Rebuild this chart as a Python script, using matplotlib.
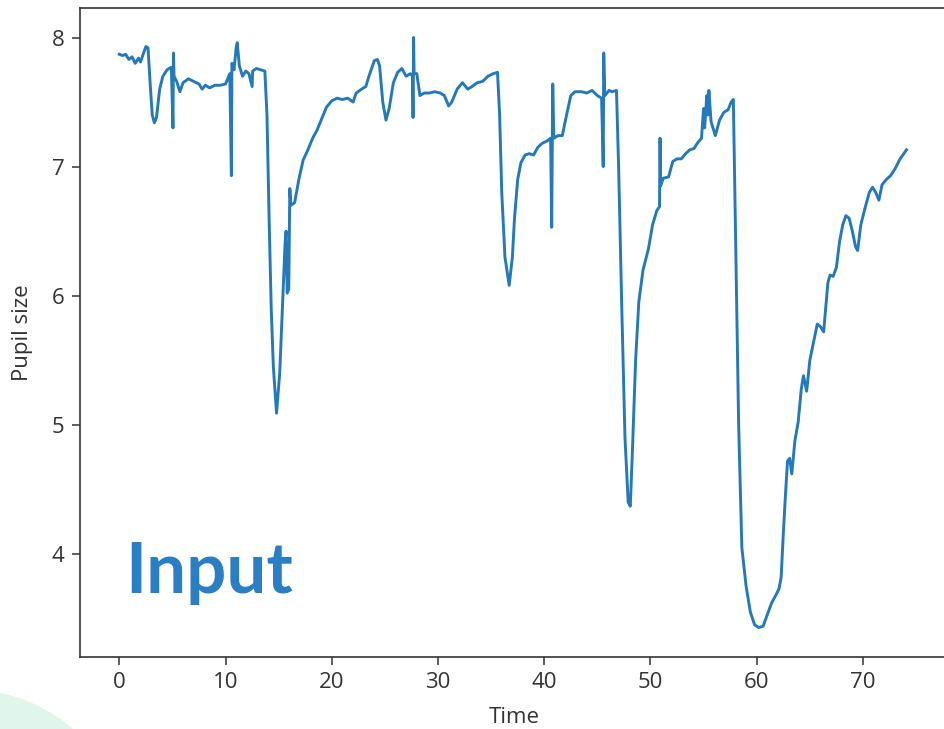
import matplotlib
matplotlib.use("Agg")
import matplotlib.pyplot as plt
from matplotlib.patches import Ellipse

# ---- data ----
time = [
    0.0, 0.3, 0.6, 0.9, 1.2, 1.5, 1.8, 2.0, 2.2, 2.5, 2.7, 2.9, 3.1, 3.3, 3.5, 3.8,
    4.1, 4.5, 4.9, 5.05, 5.1, 5.15, 5.4, 5.7, 6.0, 6.5, 7.0, 7.5, 7.8, 8.1, 8.5, 9.0,
    9.5, 10.0, 10.4, 10.55, 10.6, 10.8, 11.0, 11.1, 11.3, 11.6, 11.9, 12.2, 12.5, 12.55,
    12.9, 13.3, 13.7, 13.9, 14.1, 14.3, 14.5, 14.8, 15.1, 15.4, 15.6, 15.7, 15.8, 15.95,
    16.05, 16.15, 16.5, 16.9, 17.3, 17.7, 18.2, 18.6, 19.1, 19.5, 20.0, 20.5, 21.0, 21.5,
    22.0, 22.3, 22.8, 23.2, 23.5, 24.0, 24.3, 24.5, 24.8, 25.1, 25.4, 25.8, 26.2, 26.6,
    27.0, 27.4, 27.6, 27.65, 27.7, 27.75, 28.0, 28.3, 28.7, 29.2, 29.7, 30.2, 30.6, 31.0,
    31.3, 31.8, 32.3, 32.8, 33.2, 33.7, 34.2, 34.7, 35.2, 35.6, 35.8, 36.0, 36.3, 36.7,
    37.0, 37.2, 37.5, 37.8, 38.2, 38.6, 39.0, 39.4, 39.8, 40.3, 40.6, 40.7, 40.8, 40.9,
    41.3, 41.7, 42.1, 42.5, 42.9, 43.5, 44.0, 44.5, 45.0, 45.4, 45.55, 45.6, 45.7, 46.1,
    46.4, 46.8, 47.0, 47.3, 47.6, 47.9, 48.1, 48.3, 48.6, 48.9, 49.3, 49.8, 50.2, 50.6,
    50.85, 50.9, 50.95, 51.2, 51.7, 52.1, 52.5, 52.9, 53.3, 53.7, 54.1, 54.4, 54.8, 55.0,
    55.1, 55.3, 55.4, 55.5, 55.7, 56.1, 56.5, 56.9, 57.3, 57.6, 57.8, 58.0, 58.3, 58.6,
    59.0, 59.4, 59.8, 60.2, 60.6, 61.0, 61.4, 61.8, 62.1, 62.3, 62.5, 62.7, 62.9, 63.1,
    63.3, 63.6, 63.9, 64.2, 64.4, 64.7, 65.0, 65.3, 65.7, 66.0, 66.3, 66.7, 66.9, 67.2,
    67.5, 67.8, 68.1, 68.4, 68.7, 69.0, 69.3, 69.5, 69.8, 70.2, 70.6, 70.9, 71.2, 71.5,
    71.8, 72.2, 72.6, 73.0, 73.5, 74.1,
]
pupil_size = [
    7.87, 7.86, 7.87, 7.83, 7.85, 7.80, 7.84, 7.81, 7.86, 7.93, 7.92, 7.65, 7.40, 7.34, 7.38, 7.60,
    7.70, 7.75, 7.77, 7.30, 7.88, 7.70, 7.66, 7.58, 7.65, 7.68, 7.66, 7.64, 7.60, 7.63, 7.61, 7.63,
    7.63, 7.64, 7.72, 6.93, 7.80, 7.75, 7.92, 7.96, 7.78, 7.70, 7.74, 7.72, 7.62, 7.74,
    7.76, 7.75, 7.74, 7.40, 6.60, 5.90, 5.45, 5.09, 5.40, 6.00, 6.40, 6.50, 6.02, 6.05,
    6.83, 6.70, 6.72, 6.90, 7.05, 7.12, 7.22, 7.28, 7.38, 7.46, 7.51, 7.53, 7.52, 7.53,
    7.50, 7.57, 7.60, 7.62, 7.70, 7.82, 7.83, 7.78, 7.50, 7.36, 7.45, 7.65, 7.73, 7.76,
    7.70, 7.72, 7.70, 7.38, 8.00, 7.72, 7.72, 7.55, 7.57, 7.57, 7.58, 7.57, 7.55, 7.47,
    7.50, 7.60, 7.65, 7.60, 7.62, 7.65, 7.66, 7.70, 7.72, 7.73, 7.40, 6.80, 6.30, 6.08,
    6.30, 6.60, 6.90, 7.03, 7.09, 7.10, 7.09, 7.15, 7.18, 7.20, 7.22, 6.53, 7.64, 7.22,
    7.24, 7.24, 7.40, 7.55, 7.58, 7.58, 7.57, 7.59, 7.55, 7.53, 7.00, 7.88, 7.55, 7.59,
    7.58, 7.59, 7.00, 5.90, 4.90, 4.40, 4.37, 4.80, 5.50, 5.95, 6.20, 6.36, 6.55, 6.66,
    6.69, 7.22, 6.85, 6.91, 6.92, 7.04, 7.06, 7.06, 7.10, 7.13, 7.14, 7.18, 7.22, 7.45,
    7.30, 7.55, 7.40, 7.59, 7.35, 7.24, 7.36, 7.42, 7.44, 7.50, 7.52, 6.50, 5.00, 4.05,
    3.75, 3.55, 3.45, 3.43, 3.44, 3.53, 3.62, 3.68, 3.73, 3.82, 4.15, 4.45, 4.72, 4.74,
    4.62, 4.88, 5.02, 5.28, 5.38, 5.26, 5.50, 5.62, 5.78, 5.76, 5.72, 6.10, 6.16, 6.15,
    6.22, 6.42, 6.55, 6.62, 6.60, 6.50, 6.38, 6.35, 6.55, 6.68, 6.80, 6.84, 6.80, 6.74,
    6.86, 6.90, 6.93, 6.98, 7.06, 7.13,
]
x_ticks = [0, 10, 20, 30, 40, 50, 60, 70]
y_ticks = [4, 5, 6, 7, 8]
x_label = "Time"
y_label = "Pupil size"
overlay_text = "Input"

# ---- style ----
plt.rcParams['font.family'] = ['Open Sans', 'DejaVu Sans']

W, H = 945, 729
fig = plt.figure(figsize=(W / 100, H / 100), dpi=100, facecolor='white')

# decorative mint blob at bottom-left
fig.patches.append(Ellipse((-30 / W, -116 / H), 2 * 155 / W, 2 * 155 / H,
                           transform=fig.transFigure, facecolor='#e0f6ec',
                           edgecolor='none', zorder=-5))

ax = fig.add_axes([80 / W, 72 / H, 869 / W, 649 / H])
ax.plot(time, pupil_size, color='#2479b8', linewidth=2.1)
ax.set_xlim(-3.7, 78.1)

ax.set_xticks(x_ticks)
ax.set_yticks(y_ticks)
ax.tick_params(axis='both', labelsize=16, length=6, width=1.1, color='#333333',
               labelcolor='#333333', pad=5)
for sp in ax.spines.values():
    sp.set_linewidth(1.2)
    sp.set_color('#333333')
ax.spines['right'].set_visible(False)

ax.set_xlabel(x_label, fontsize=16, color='#333333', labelpad=10)
ax.set_ylabel(y_label, fontsize=16, color='#333333', labelpad=14)

ax.text(0.052, 0.0986, overlay_text, transform=ax.transAxes, family=['Lato', 'DejaVu Sans'],
        fontweight='bold', fontsize=51, color='#2a7fc4', ha='left', va='baseline')

fig.savefig('out.png', dpi=100, facecolor='white')
